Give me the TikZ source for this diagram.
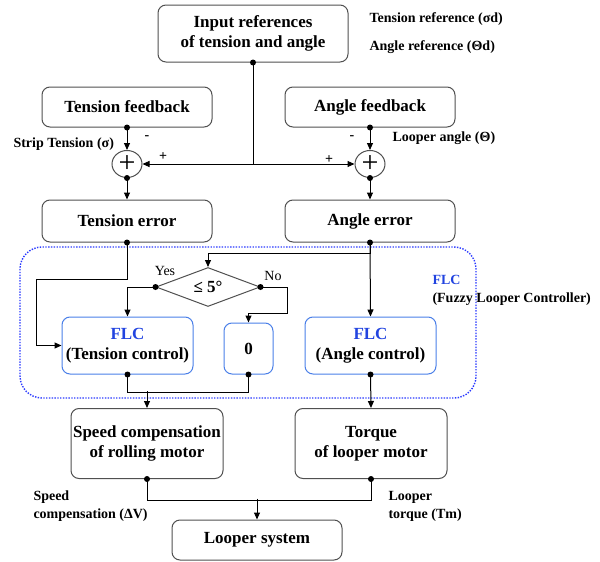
\documentclass[tikz,border=0pt]{standalone}
\usepackage{fontspec}
\setmainfont{Liberation Serif}
\usepackage{tikz}
\usetikzlibrary{arrows.meta,shapes.geometric}
\definecolor{flcblue}{HTML}{2244E0}
\definecolor{dotblue}{HTML}{2B3BFF}
\definecolor{flcedge}{HTML}{4A7FE8}
\definecolor{boxgray}{HTML}{505050}

\begin{document}
\begin{tikzpicture}[x=1pt,y=-1pt,line width=1pt,
    blk/.style={draw=boxgray, rounded corners=8pt, align=center, inner sep=0pt,
                font=\fontsize{17}{20}\selectfont\bfseries},
    flcblk/.style={blk, draw=flcedge},
    lbl/.style={font=\fontsize{14}{18}\selectfont\bfseries, inner sep=0pt},
    arr/.style={-{Triangle[length=7pt,width=6pt]}},
    dot/.style={circle, fill=black, inner sep=0pt, minimum size=6pt},
    sumnode/.style={ellipse, draw=boxgray, minimum width=30pt, minimum height=27pt,
                inner sep=0pt, font=\fontsize{30}{30}\selectfont}]
    \useasboundingbox (0,0) rectangle (600,562);

    \node[blk, minimum width=190pt, minimum height=57pt] (in) at (253,33.5) {Input references\\of tension and angle};
    \node[lbl, anchor=west] (tref) at (369,19) {Tension reference (σd)};
    \node[lbl, anchor=west] (aref) at (369,47) {Angle reference (Θd)};

    \node[blk, minimum width=170pt, minimum height=40pt] (tf) at (127,107) {Tension feedback};
    \node[blk, minimum width=170pt, minimum height=40pt] (af) at (370,107) {Angle feedback};

    \node[sumnode] (sumt) at (127,164) {+};
    \node[sumnode] (suma) at (370,164) {+};
    \node[lbl, anchor=west] (stl) at (13,144) {Strip Tension (σ)};
    \node[lbl, anchor=west] (lal) at (392,138) {Looper angle (Θ)};
    \node[lbl] (mt) at (147,138) {-};
    \node[lbl] (ma) at (352,138) {-};
    \node[lbl] (pt) at (163,157) {+};
    \node[lbl] (pa) at (329,160) {+};

    \node[blk, minimum width=170pt, minimum height=42pt] (te) at (127,221) {Tension error};
    \node[blk, minimum width=170pt, minimum height=42pt] (ae) at (370,221) {Angle error};

    \draw[dotblue, line width=1.4pt, dash pattern=on 1.4pt off 1.4pt, rounded corners=22pt] (20,247) rectangle (476,398);
    \node[lbl, anchor=west, text=flcblue] (flct) at (432,280) {FLC};
    \node[lbl, anchor=west] (flcd) at (432,299) {(Fuzzy Looper Controller)};

    \node[diamond, draw=boxgray, aspect=2.67, minimum width=104pt, minimum height=39pt, inner sep=0pt,
          font=\fontsize{17}{20}\selectfont\bfseries] (dia) at (208,287) {≤ 5°};
    \node[lbl, font=\fontsize{14}{18}\selectfont] (yes) at (165,271) {Yes};
    \node[lbl, font=\fontsize{14}{18}\selectfont] (no) at (273,276) {No};

    \node[flcblk, minimum width=131pt, minimum height=57pt] (flcten) at (127.5,345.5) {\textcolor{flcblue}{FLC}\\(Tension control)};
    \node[flcblk, minimum width=49pt, minimum height=51pt] (zero) at (248.5,348.5) {0};
    \node[flcblk, minimum width=131pt, minimum height=57pt] (flcang) at (370.5,345.5) {\textcolor{flcblue}{FLC}\\(Angle control)};

    \node[blk, minimum width=152pt, minimum height=70pt] (sp) at (147,443.5) {Speed compensation\\of rolling motor};
    \node[blk, minimum width=152pt, minimum height=70pt] (tq) at (371,443.5) {Torque\\of looper motor};
    \node[lbl, anchor=west, align=left] (spl) at (33,506) {Speed\\compensation (ΔV)};
    \node[lbl, anchor=west, align=left] (tql) at (388,506) {Looper\\torque (Tm)};

    \node[blk, minimum width=170pt, minimum height=40pt] (ls) at (257,540) {Looper system};

    \draw[arr] (in.south) |- (sumt.east);
    \draw[arr] (in.south) |- (suma.west);
    \draw[arr] (tf.south) -- (sumt.north);
    \draw[arr] (af.south) -- (suma.north);
    \draw[arr] (sumt.south) -- (te.north);
    \draw[arr] (suma.south) -- (ae.north);
    \draw[arr] (te.south) -- ++(0,37) -| ([xshift=-25pt]flcten.west) -- (flcten.west);
    \draw[arr] (ae.south) -- ++(0,11) -| (dia.north);
    \draw[arr] (ae.south) -- (flcang.north);
    \draw[arr] (dia.west) -| (flcten.north);
    \draw[arr] (dia.east) -- ++(27,0) |- ([yshift=9pt]zero.north) -- (zero.north);
    \draw (flcten.south) |- ([yshift=-18pt]zero.south) -- (zero.south);
    \draw[arr] ([yshift=17pt]sp.north) -- (sp.north);
    \draw[arr] (flcang.south) -- (tq.north);
    \draw (sp.south) |- ([yshift=-21pt]tq.south) -- (tq.south);
    \draw[arr] ([yshift=21pt]ls.north) -- (ls.north);

    \node[dot] (d1) at (in.south) {};
    \node[dot] (d2) at (tf.south) {};
    \node[dot] (d3) at (af.south) {};
    \node[dot] (d4) at (sumt.south) {};
    \node[dot] (d5) at (suma.south) {};
    \node[dot] (d6) at (te.south) {};
    \node[dot] (d7) at (ae.south) {};
    \node[dot] (d8) at (dia.west) {};
    \node[dot] (d9) at (dia.east) {};
    \node[dot] (d10) at (flcten.south) {};
    \node[dot] (d11) at (zero.south) {};
    \node[dot] (d12) at (flcang.south) {};
    \node[dot] (d13) at (sp.south) {};
    \node[dot] (d14) at (tq.south) {};
\end{tikzpicture}
\end{document}
